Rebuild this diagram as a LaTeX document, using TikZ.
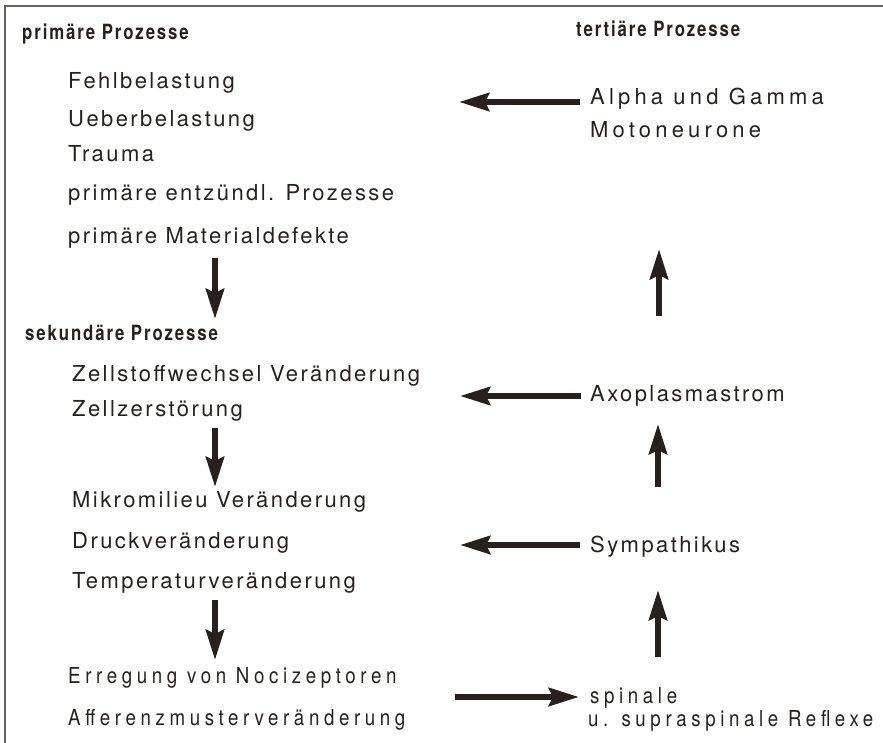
\documentclass[tikz,border=0pt]{standalone}
\usepackage{fontspec}
\setmainfont{TeX Gyre Heros}
\newfontfamily\bodyfont[LetterSpace=11]{TeX Gyre Heros}
\newfontfamily\widefont[LetterSpace=19]{TeX Gyre Heros}
\newfontfamily\condfont[FakeStretch=0.85,LetterSpace=21]{TeX Gyre Heros}
\newfontfamily\headfont[FakeStretch=0.8,LetterSpace=9]{TeX Gyre Heros}
\usetikzlibrary{arrows.meta,positioning}
\definecolor{ink}{RGB}{38,33,31}
\tikzset{
  txt/.style={anchor=base west, inner sep=0pt, text=ink, font=\bodyfont\fontsize{22}{24}\selectfont},
  widetxt/.style={txt, font=\widefont\fontsize{22}{24}\selectfont},
  lowtxt/.style={anchor=base west, inner sep=0pt, text=ink, font=\condfont\fontsize{22}{24}\selectfont},
  head/.style={anchor=base west, inner sep=0pt, text=ink, font=\headfont\bfseries\fontsize{21}{23}\selectfont},
  pfeil/.style={line width=6pt, draw=ink, -{Stealth[length=30pt,width=18pt,inset=4pt]}},
}
\begin{document}
\begin{tikzpicture}[x=1pt,y=-1pt]
\useasboundingbox (0,0) rectangle (883,743);
\draw [line width=1.2pt, draw=ink!70] (5,743) -- (5,6) -- (883,6);
\node [head] (prim) at (22,40) {primäre Prozesse};
\node [head] (tert) at (576,37) {tertiäre Prozesse};
\node [txt] (fehl) at (68,89) {Fehlbelastung};
\node [txt] (ueber) at (68,127) {Ueberbelastung};
\node [txt] (trauma) at (68,162) {Trauma};
\node [txt] (entz) at (68,201) {primäre entzündl. Prozesse};
\node [txt] (mat) at (68,244) {primäre Materialdefekte};
\node [head] (sek) at (25,340) {sekundäre Prozesse};
\node [txt] (zell) at (72,381) {Zellstoffwechsel Veränderung};
\node [txt] (zerst) at (72,416) {Zellzerstörung};
\node [txt] (mikro) at (72,507) {Mikromilieu Veränderung};
\node [txt] (druck) at (72,548) {Druckveränderung};
\node [txt] (temp) at (72,588) {Temperaturveränderung};
\node [lowtxt] (erreg) at (68,683) {Erregung von Nocizeptoren};
\node [lowtxt] (aff) at (68,725) {Afferenzmusterveränderung};
\node [widetxt] (alpha) at (590,105) {Alpha und Gamma};
\node [widetxt] (moto) at (590,138) {Motoneurone};
\node [txt] (axo) at (590,401) {Axoplasmastrom};
\node [txt] (symp) at (590,552) {Sympathikus};
\node [lowtxt] (spin) at (590,703) {spinale};
\node [lowtxt] (supra) at (588,726) {u. supraspinale Reflexe};
\coordinate (d1a) at (215,258); \coordinate (d1b) at (215,319);
\coordinate (d2a) at (215,428); \coordinate (d2b) at (215,487);
\coordinate (d3a) at (215,600); \coordinate (d3b) at (215,660);
\coordinate (u1a) at (659,316); \coordinate (u1b) at (659,249);
\coordinate (u2a) at (658,487); \coordinate (u2b) at (658,424);
\coordinate (u3a) at (658,657); \coordinate (u3b) at (658,590);
\coordinate (l1a) at (580,102); \coordinate (l1b) at (459,102);
\coordinate (l2a) at (581,396); \coordinate (l2b) at (460,396);
\coordinate (l3a) at (580,545); \coordinate (l3b) at (460,545);
\coordinate (ra) at (455,697); \coordinate (rb) at (579,697);
\draw [pfeil] (d1a) -- (d1b);
\draw [pfeil] (d2a) -- (d2b);
\draw [pfeil] (d3a) -- (d3b);
\draw [pfeil] (u1a) -- (u1b);
\draw [pfeil] (u2a) -- (u2b);
\draw [pfeil] (u3a) -- (u3b);
\draw [pfeil] (l1a) -- (l1b);
\draw [pfeil] (l2a) -- (l2b);
\draw [pfeil] (l3a) -- (l3b);
\draw [pfeil] (ra) -- (rb);
\end{tikzpicture}
\end{document}
